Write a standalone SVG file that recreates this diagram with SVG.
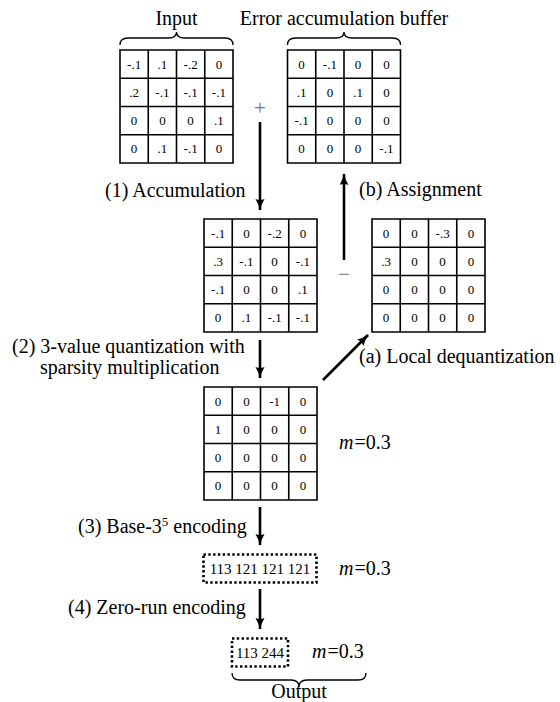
<svg xmlns="http://www.w3.org/2000/svg" width="560" height="702" viewBox="0 0 560 702">
<defs>
<style>
text{font-family:'Liberation Serif','DejaVu Serif',serif}
.lbl{font-size:20px;fill:#000}
.cell{font-size:13px;fill:#000;text-anchor:middle}
.code{font-size:15px;fill:#000;text-anchor:middle}
.grid{fill:#fff;stroke:#000;stroke-width:1.6}
.brace{fill:none;stroke:#000;stroke-width:1.3}
.dots{fill:none;stroke:#000;stroke-width:2.6;stroke-dasharray:2.4 2.4}
.arr{fill:none;stroke:#000;stroke-width:2.6}
.sign{font-size:21px;fill:#777;text-anchor:middle}
</style>
<marker id="ah" markerUnits="userSpaceOnUse" markerWidth="14" markerHeight="10" refX="11" refY="4.5" orient="auto">
<path d="M0,0 Q5,3.2 12,4.5 Q5,5.8 0,9 Q2,4.5 0,0 Z" fill="#000"/>
</marker>
</defs>
<rect width="560" height="702" fill="#fff"/>

<g id="input">
<text class="lbl" x="176.5" y="25" text-anchor="middle">Input</text>
<path class="brace" d="M120,45 Q120,38 128,38 L168.5,38 Q176.5,38 176.5,32 Q176.5,38 184.5,38 L225,38 Q233,38 233,45"/>
<path class="grid" d="M120,50h113v113h-113z M148.25,50v113 M176.5,50v113 M204.75,50v113 M120,78.25h113 M120,106.5h113 M120,134.75h113"/>
<text class="cell" x="134.1" y="68.6">-.1</text><text class="cell" x="162.4" y="68.6">.1</text><text class="cell" x="190.6" y="68.6">-.2</text><text class="cell" x="218.9" y="68.6">0</text>
<text class="cell" x="134.1" y="96.9">.2</text><text class="cell" x="162.4" y="96.9">-.1</text><text class="cell" x="190.6" y="96.9">-.1</text><text class="cell" x="218.9" y="96.9">-.1</text>
<text class="cell" x="134.1" y="125.1">0</text><text class="cell" x="162.4" y="125.1">0</text><text class="cell" x="190.6" y="125.1">0</text><text class="cell" x="218.9" y="125.1">.1</text>
<text class="cell" x="134.1" y="153.4">0</text><text class="cell" x="162.4" y="153.4">.1</text><text class="cell" x="190.6" y="153.4">-.1</text><text class="cell" x="218.9" y="153.4">0</text>
</g>

<g id="buffer">
<text class="lbl" x="344" y="25" text-anchor="middle">Error accumulation buffer</text>
<path class="brace" d="M287.5,45 Q287.5,38 295.5,38 L336,38 Q344,38 344,32 Q344,38 352,38 L392.5,38 Q400.5,38 400.5,45"/>
<path class="grid" d="M287.5,50h113v113h-113z M315.75,50v113 M344,50v113 M372.25,50v113 M287.5,78.25h113 M287.5,106.5h113 M287.5,134.75h113"/>
<text class="cell" x="301.6" y="68.6">0</text><text class="cell" x="329.9" y="68.6">-.1</text><text class="cell" x="358.1" y="68.6">0</text><text class="cell" x="386.4" y="68.6">0</text>
<text class="cell" x="301.6" y="96.9">.1</text><text class="cell" x="329.9" y="96.9">0</text><text class="cell" x="358.1" y="96.9">.1</text><text class="cell" x="386.4" y="96.9">0</text>
<text class="cell" x="301.6" y="125.1">-.1</text><text class="cell" x="329.9" y="125.1">0</text><text class="cell" x="358.1" y="125.1">0</text><text class="cell" x="386.4" y="125.1">0</text>
<text class="cell" x="301.6" y="153.4">0</text><text class="cell" x="329.9" y="153.4">0</text><text class="cell" x="358.1" y="153.4">0</text><text class="cell" x="386.4" y="153.4">-.1</text>
</g>

<g id="accumulated">
<path class="grid" d="M204,219h113v113h-113z M232.25,219v113 M260.5,219v113 M288.75,219v113 M204,247.25h113 M204,275.5h113 M204,303.75h113"/>
<text class="cell" x="218.1" y="237.6">-.1</text><text class="cell" x="246.4" y="237.6">0</text><text class="cell" x="274.6" y="237.6">-.2</text><text class="cell" x="302.9" y="237.6">0</text>
<text class="cell" x="218.1" y="265.9">.3</text><text class="cell" x="246.4" y="265.9">-.1</text><text class="cell" x="274.6" y="265.9">0</text><text class="cell" x="302.9" y="265.9">-.1</text>
<text class="cell" x="218.1" y="294.1">-.1</text><text class="cell" x="246.4" y="294.1">0</text><text class="cell" x="274.6" y="294.1">0</text><text class="cell" x="302.9" y="294.1">.1</text>
<text class="cell" x="218.1" y="322.4">0</text><text class="cell" x="246.4" y="322.4">.1</text><text class="cell" x="274.6" y="322.4">-.1</text><text class="cell" x="302.9" y="322.4">-.1</text>
</g>

<g id="dequantized">
<path class="grid" d="M372,219h113v113h-113z M400.25,219v113 M428.5,219v113 M456.75,219v113 M372,247.25h113 M372,275.5h113 M372,303.75h113"/>
<text class="cell" x="386.1" y="237.6">0</text><text class="cell" x="414.4" y="237.6">0</text><text class="cell" x="442.6" y="237.6">-.3</text><text class="cell" x="470.9" y="237.6">0</text>
<text class="cell" x="386.1" y="265.9">.3</text><text class="cell" x="414.4" y="265.9">0</text><text class="cell" x="442.6" y="265.9">0</text><text class="cell" x="470.9" y="265.9">0</text>
<text class="cell" x="386.1" y="294.1">0</text><text class="cell" x="414.4" y="294.1">0</text><text class="cell" x="442.6" y="294.1">0</text><text class="cell" x="470.9" y="294.1">0</text>
<text class="cell" x="386.1" y="322.4">0</text><text class="cell" x="414.4" y="322.4">0</text><text class="cell" x="442.6" y="322.4">0</text><text class="cell" x="470.9" y="322.4">0</text>
</g>

<g id="quantized">
<path class="grid" d="M204,387h113v113h-113z M232.25,387v113 M260.5,387v113 M288.75,387v113 M204,415.25h113 M204,443.5h113 M204,471.75h113"/>
<text class="cell" x="218.1" y="405.6">0</text><text class="cell" x="246.4" y="405.6">0</text><text class="cell" x="274.6" y="405.6">-1</text><text class="cell" x="302.9" y="405.6">0</text>
<text class="cell" x="218.1" y="433.9">1</text><text class="cell" x="246.4" y="433.9">0</text><text class="cell" x="274.6" y="433.9">0</text><text class="cell" x="302.9" y="433.9">0</text>
<text class="cell" x="218.1" y="462.1">0</text><text class="cell" x="246.4" y="462.1">0</text><text class="cell" x="274.6" y="462.1">0</text><text class="cell" x="302.9" y="462.1">0</text>
<text class="cell" x="218.1" y="490.4">0</text><text class="cell" x="246.4" y="490.4">0</text><text class="cell" x="274.6" y="490.4">0</text><text class="cell" x="302.9" y="490.4">0</text>
<text class="lbl" x="339" y="449"><tspan font-style="italic">m</tspan><tspan dx="1">=0.3</tspan></text>
</g>

<g id="base3">
<rect class="dots" x="203.5" y="554.5" width="113" height="28"/>
<text class="code" x="260" y="574">113 121 121 121</text>
<text class="lbl" x="339" y="575"><tspan font-style="italic">m</tspan><tspan dx="1">=0.3</tspan></text>
</g>

<g id="output">
<rect class="dots" x="232" y="638.5" width="56" height="28"/>
<text class="code" x="260" y="658">113 244</text>
<text class="lbl" x="312" y="658"><tspan font-style="italic">m</tspan><tspan dx="1">=0.3</tspan></text>
<path class="brace" d="M232,673 Q232,680 240,680 L291,680 Q299,680 299,687 Q299,680 307,680 L358,680 Q366,680 366,673"/>
<text class="lbl" x="299" y="698" text-anchor="middle">Output</text>
</g>

<g id="connectors">
<text class="sign" x="260" y="115">+</text>
<text class="sign" x="344" y="281" fill="#999">−</text>
<line class="arr" x1="260" y1="122" x2="260" y2="210" marker-end="url(#ah)"/>
<line class="arr" x1="344" y1="260" x2="344" y2="174" marker-end="url(#ah)"/>
<line class="arr" x1="260" y1="340" x2="260" y2="378" marker-end="url(#ah)"/>
<line class="arr" x1="323" y1="380" x2="368" y2="335" marker-end="url(#ah)"/>
<line class="arr" x1="260" y1="507" x2="260" y2="545" marker-end="url(#ah)"/>
<line class="arr" x1="260" y1="589" x2="260" y2="629" marker-end="url(#ah)"/>
<text class="lbl" x="105" y="197">(1) Accumulation</text>
<text class="lbl" x="359" y="196">(b) Assignment</text>
<text class="lbl" x="12" y="353">(2) 3-value quantization with</text>
<text class="lbl" x="40" y="374">sparsity multiplication</text>
<text class="lbl" x="359" y="363">(a) Local dequantization</text>
<text class="lbl" x="78" y="533">(3) Base-3<tspan font-size="13" dy="-7">5</tspan><tspan dy="7"> encoding</tspan></text>
<text class="lbl" x="68" y="614">(4) Zero-run encoding</text>
</g>
</svg>
